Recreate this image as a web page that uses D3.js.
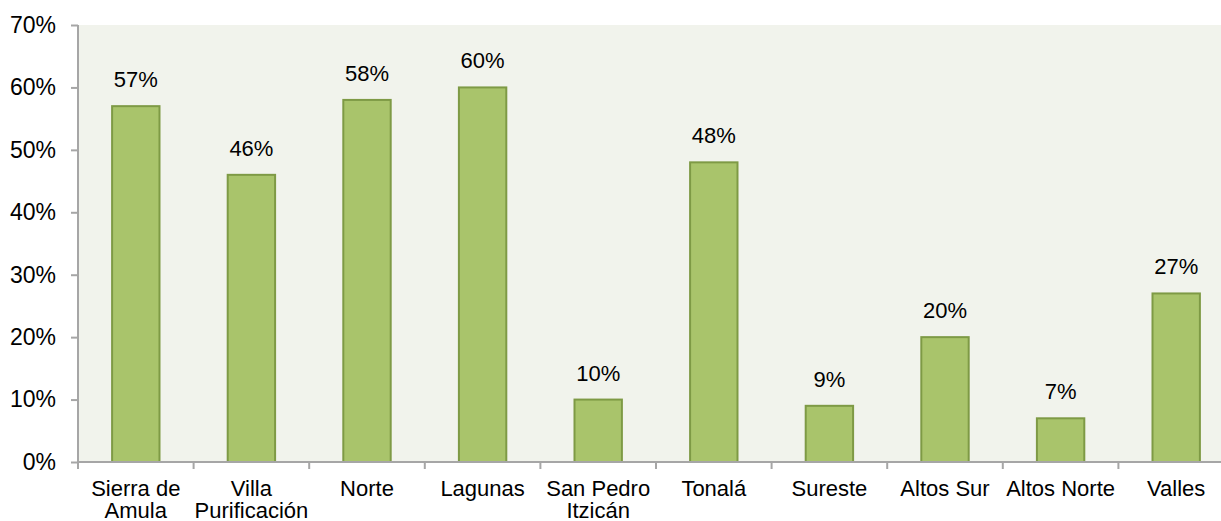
<!DOCTYPE html>
<html>
<head>
<meta charset="utf-8">
<script src="https://cdn.jsdelivr.net/npm/d3@7"></script>
<style>
  body { margin: 0; background: #fff; }
  svg { display: block; font-family: "Liberation Sans", Arial, sans-serif; }
  .bar { fill: #a9c46b; stroke: #7e9a45; stroke-width: 2; }
  .axis path, .axis line { stroke: #a6a6a6; stroke-width: 2; }
  .axis text { fill: #000; font-size: 22px; }
  .y-axis text { font-size: 23px; }
  .value-label { font-size: 22px; fill: #000; text-anchor: middle; }
</style>
</head>
<body>
<svg width="1221" height="521"></svg>
<script>
const categories = ['Sierra de|Amula', 'Villa|Purificación', 'Norte', 'Lagunas', 'San Pedro|Itzicán',
  'Tonalá', 'Sureste', 'Altos Sur', 'Altos Norte', 'Valles'];
const values = [57, 46, 58, 60, 10, 48, 9, 20, 7, 27];
const yTicks = [0, 10, 20, 30, 40, 50, 60, 70];

function whenLoaded() {
const svg = d3.select('svg');
const margin = {left: 78, top: 25, bottom: 59};
const plotW = 1156;
const plotH = 521 - margin.top - margin.bottom;

const x = d3.scaleBand()
  .domain(categories)
  .range([0, plotW])
  .paddingInner(0.59)
  .paddingOuter(0.295);

const y = d3.scaleLinear()
  .domain([0, 70])
  .range([plotH, 0]);

const g = svg.append('g')
  .attr('transform', `translate(${margin.left},${margin.top})`);

g.append('rect')
  .attr('x', 0).attr('y', 0)
  .attr('width', plotW).attr('height', plotH)
  .attr('fill', '#f1f3ec');

g.selectAll('rect.bar').data(values)
  .enter().append('rect')
    .attr('class', 'bar')
    .attr('x', (d, i) => x(categories[i]))
    .attr('y', d => y(d))
    .attr('width', x.bandwidth())
    .attr('height', d => plotH - y(d));

g.selectAll('text.value-label').data(values)
  .enter().append('text')
    .attr('class', 'value-label')
    .attr('x', (d, i) => x(categories[i]) + x.bandwidth() / 2)
    .attr('y', d => y(d) - 19)
    .text(d => d + '%');

// y axis
const yAxis = d3.axisLeft(y)
  .tickValues(yTicks)
  .tickFormat(d => d + '%')
  .tickSize(7)
  .tickPadding(15);
g.append('g')
  .attr('class', 'axis y-axis')
  .call(yAxis)
  .call(a => a.select('.domain').attr('d', `M0,0V${plotH}`));

// x axis with ticks between categories
const xAxisG = g.append('g')
  .attr('class', 'axis')
  .attr('transform', `translate(0,${plotH})`);
xAxisG.append('path')
  .attr('d', `M0,0H${plotW}`);
const step = x.step();
xAxisG.selectAll('line').data(d3.range(categories.length + 1))
  .enter().append('line')
    .attr('x1', i => i * step).attr('x2', i => i * step)
    .attr('y1', 0).attr('y2', 7);

const labels = xAxisG.selectAll('text').data(categories)
  .enter().append('text')
    .attr('x', d => x(d) + x.bandwidth() / 2)
    .attr('y', 34)
    .attr('text-anchor', 'middle');
labels.each(function(d) {
  d.split('|').forEach((line, k) => {
    d3.select(this).append('tspan')
      .attr('x', x(d) + x.bandwidth() / 2)
      .attr('dy', k === 0 ? 0 : 22)
      .text(line);
  });
});
}

window.onload = whenLoaded;
</script>
</body>
</html>
